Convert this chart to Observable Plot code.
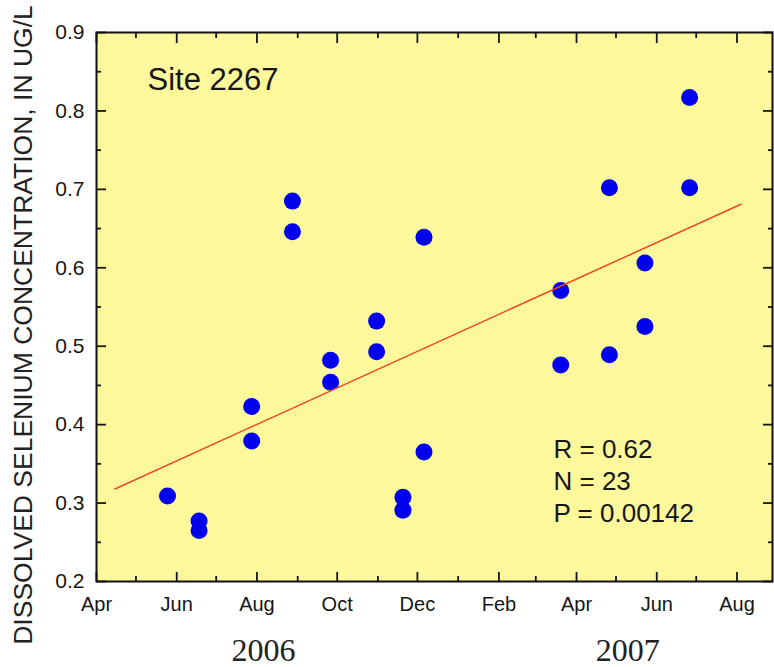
<!DOCTYPE html>
<html>
<head>
<meta charset="utf-8">
<script src="https://cdn.jsdelivr.net/npm/d3@7"></script>
<script src="https://cdn.jsdelivr.net/npm/@observablehq/plot@0.6"></script>
<style>
  html, body { margin: 0; padding: 0; background: white; }
  #chart { width: 774px; height: 667px; overflow: hidden; }
</style>
</head>
<body>
<div id="chart"></div>
<script>
// ---- data ----
const sampleDates = [
  "2006-05-25",
  "2006-06-18", "2006-06-18",
  "2006-07-28", "2006-07-28",
  "2006-08-28", "2006-08-28",
  "2006-09-26", "2006-09-26",
  "2006-10-31", "2006-10-31",
  "2006-11-20", "2006-11-20",
  "2006-12-06", "2006-12-06",
  "2007-03-20", "2007-03-20",
  "2007-04-26", "2007-04-26",
  "2007-05-23", "2007-05-23",
  "2007-06-26", "2007-06-26"
];
const seleniumValues = [
  0.309,
  0.277, 0.265,
  0.423, 0.379,
  0.685, 0.646,
  0.482, 0.454,
  0.532, 0.493,
  0.3075, 0.291,
  0.639, 0.365,
  0.571, 0.476,
  0.702, 0.489,
  0.606, 0.525,
  0.817, 0.702
];
const trendDates = ["2006-04-15", "2007-08-04"];
const trendValues = [0.318, 0.681];

const xMajorTicks = ["2006-04-01","2006-06-01","2006-08-01","2006-10-01","2006-12-01","2007-02-01","2007-04-01","2007-06-01","2007-08-01"];
const xTickLabels = ["Apr","Jun","Aug","Oct","Dec","Feb","Apr","Jun","Aug"];
const xMinorTicks = ["2006-05-01","2006-07-01","2006-09-01","2006-11-01","2007-01-01","2007-03-01","2007-05-01","2007-07-01"];
const yMajorTicks = [0.2, 0.3, 0.4, 0.5, 0.6, 0.7, 0.8, 0.9];
const yTickLabels = ["0.2","0.3","0.4","0.5","0.6","0.7","0.8","0.9"];
const yMinorTicks = [0.25, 0.35, 0.45, 0.55, 0.65, 0.75, 0.85];
const yearLabels = ["2006", "2007"];
const yearLabelDates = ["2006-08-06", "2007-05-10"];
const xDomain = ["2006-04-01", "2007-08-28"];
const yDomain = [0.2, 0.9];
const siteLabel = "Site 2267";
const statsLabel = ["R = 0.62", "N = 23", "P = 0.00142"];
const yTitle = "DISSOLVED SELENIUM CONCENTRATION, IN UG/L";

// ---- build ----
const D = s => new Date(s + "T00:00:00Z");
const samples = sampleDates.map((d, i) => ({date: D(d), value: seleniumValues[i]}));
const trend = trendDates.map((d, i) => ({date: D(d), value: trendValues[i]}));
const xMaj = xMajorTicks.map(D);
const xMin = xMinorTicks.map(D);
const xLabelMap = new Map(xMaj.map((d, i) => [+d, xTickLabels[i]]));
const yLabelMap = new Map(yMajorTicks.map((v, i) => [v, yTickLabels[i]]));
const years = yearLabels.map((t, i) => ({date: D(yearLabelDates[i]), text: t}));

const ink = "#161616";
const tickW = 1.8;
const blank = () => "";

const chart = Plot.plot({
  width: 774,
  height: 667,
  marginLeft: 96,
  marginRight: 2,
  marginTop: 32,
  marginBottom: 86,
  style: {fontFamily: "'Liberation Sans', Arial, sans-serif", background: "white", color: ink, overflow: "visible"},
  x: {type: "utc", domain: xDomain.map(D), axis: null},
  y: {domain: yDomain, axis: null},
  marks: [
    Plot.frame({fill: "#fef89c", stroke: null}),
    Plot.dot(samples, {x: "date", y: "value", r: 8.5, fill: "#0000ee", stroke: null}),
    Plot.line(trend, {x: "date", y: "value", stroke: "#ea4a1c", strokeWidth: 1.5}),
    // bottom axis
    Plot.axisX({anchor: "bottom", ticks: xMaj, tickSize: -9, tickPadding: 24, tickFormat: d => xLabelMap.get(+d), fontSize: 20, label: null, strokeWidth: tickW, fill: ink}),
    Plot.axisX({anchor: "bottom", ticks: xMin, tickSize: -5, tickFormat: blank, label: null, strokeWidth: tickW}),
    // top axis
    Plot.axisX({anchor: "top", ticks: xMaj, tickSize: -10, tickFormat: blank, label: null, strokeWidth: tickW}),
    Plot.axisX({anchor: "top", ticks: xMin, tickSize: -5, tickFormat: blank, label: null, strokeWidth: tickW}),
    // left axis
    Plot.axisY({anchor: "left", ticks: yMajorTicks, tickSize: -10, tickPadding: 22, tickFormat: v => yLabelMap.get(v), fontSize: 21, label: null, strokeWidth: tickW, fill: ink}),
    Plot.axisY({anchor: "left", ticks: yMinorTicks, tickSize: -5, tickFormat: blank, label: null, strokeWidth: tickW}),
    // right axis
    Plot.axisY({anchor: "right", ticks: yMajorTicks, tickSize: -10, tickFormat: blank, label: null, strokeWidth: tickW}),
    Plot.axisY({anchor: "right", ticks: yMinorTicks, tickSize: -5, tickFormat: blank, label: null, strokeWidth: tickW}),
    Plot.frame({stroke: "#111", strokeWidth: 2}),
    // annotations
    Plot.text([siteLabel], {frameAnchor: "top-left", dx: 51, dy: 57, text: d => d, textAnchor: "start", lineAnchor: "bottom", fontSize: 31, fill: ink}),
    Plot.text([statsLabel.join("\n")], {frameAnchor: "bottom-left", dx: 457, dy: -60, text: d => d, textAnchor: "start", lineAnchor: "bottom", lineHeight: 1.22, fontSize: 26, fill: ink}),
    Plot.text([yTitle], {frameAnchor: "left", dx: -73, dy: 18, text: d => d, rotate: -90, textAnchor: "middle", lineAnchor: "middle", fontSize: 26.5, fill: "#222"}),
    Plot.text(years, {x: "date", frameAnchor: "bottom", dy: 79, text: "text", lineAnchor: "bottom", fontSize: 32, fontFamily: "'Liberation Serif', 'Times New Roman', serif", fill: "#222"})
  ]
});
document.getElementById("chart").appendChild(chart);
</script>
</body>
</html>
